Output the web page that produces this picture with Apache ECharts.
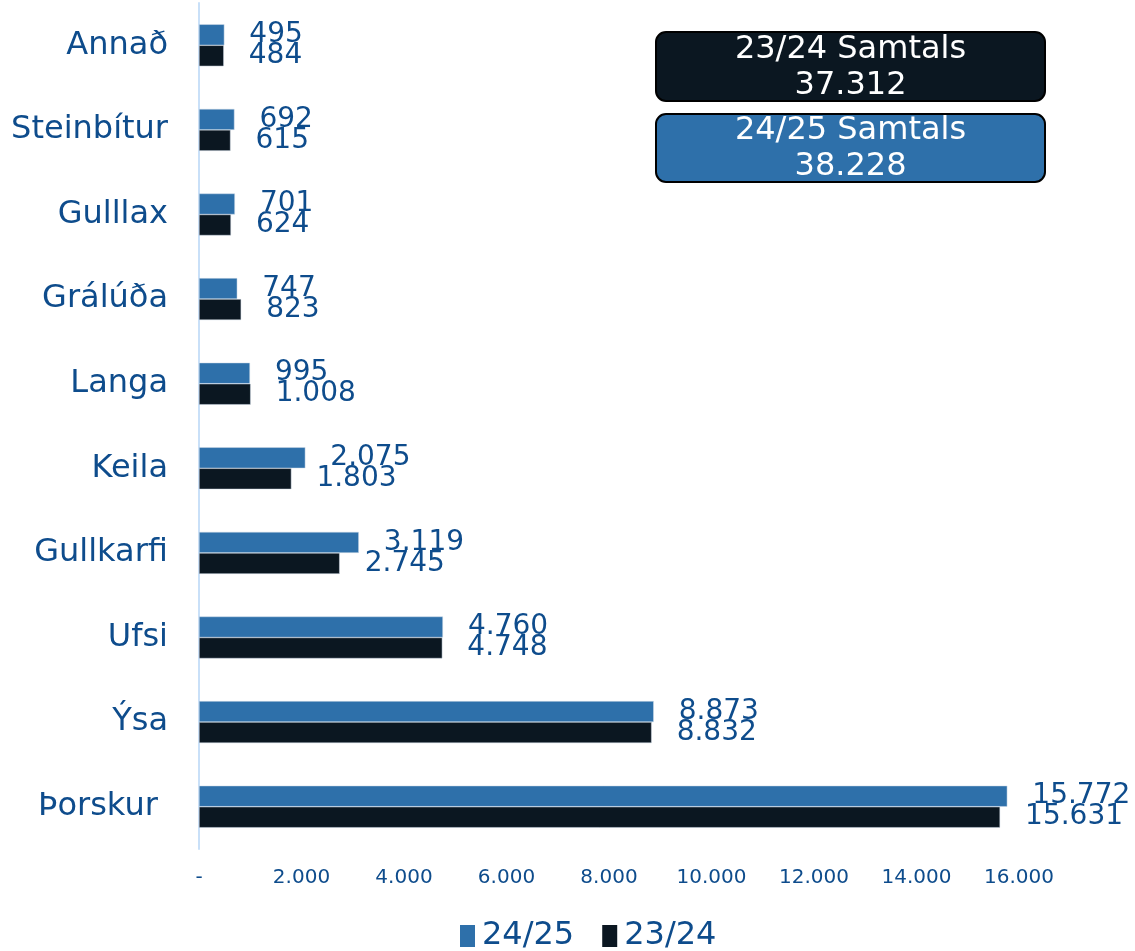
<!DOCTYPE html>
<html>
<head>
<meta charset="utf-8">
<script src="https://cdn.jsdelivr.net/npm/echarts@6/dist/echarts.min.js"></script>
<style>
  html, body { margin: 0; padding: 0; background: #fff; }
  #chart { width: 1135px; height: 951px; }
</style>
</head>
<body>
<div id="chart"></div>
<script>
// tegundir (top to bottom)
const categories = ['Annað', 'Steinbítur', 'Gulllax', 'Grálúða', 'Langa', 'Keila', 'Gullkarfi', 'Ufsi', 'Ýsa', 'Þorskur ']
const seriesNames = ['24/25', '23/24']
const values2425 = [495, 692, 701, 747, 995, 2075, 3119, 4760, 8873, 15772]
const values2324 = [484, 615, 624, 823, 1008, 1803, 2745, 4748, 8832, 15631]
const totalTitles = ['23/24 Samtals', '24/25 Samtals']
const totalValues = ['37.312', '38.228']

const textColor = '#0E4C8C'
const blue = '#2E70AA'
const dark = '#0B1721'
const font = 'DejaVu Sans'

// 1234 -> 1.234, 0 -> -
function fmt (v) {
  if (v === 0) return '-'
  return String(v).replace(/\B(?=(\d{3})+(?!\d))/g, '.')
}

const chart = echarts.init(document.getElementById('chart'))

const barLabel = {
  show: true,
  position: 'right',
  distance: 25,
  fontSize: 28,
  fontFamily: font,
  color: textColor,
  formatter: p => fmt(p.value)
}

const option = {
  animation: false,
  grid: { left: 199, right: 116, top: 3, bottom: 102, containLabel: false },
  legend: {
    data: seriesNames,
    left: 455,
    top: 915,
    icon: 'rect',
    itemWidth: 15,
    itemHeight: 22,
    itemGap: 28,
    itemStyle: { borderWidth: 0 },
    textStyle: { fontSize: 32, fontFamily: font, color: textColor, padding: [0, 0, 0, 2] }
  },
  xAxis: {
    type: 'value',
    min: 0,
    max: 16000,
    interval: 2000,
    axisLine: { show: false },
    axisTick: { show: false },
    splitLine: { show: false },
    axisLabel: {
      margin: 19,
      fontSize: 20,
      fontFamily: font,
      color: textColor,
      formatter: v => fmt(v)
    }
  },
  yAxis: {
    type: 'category',
    inverse: true,
    data: categories,
    axisLine: { show: true, lineStyle: { color: '#C9E0F8', width: 2 } },
    axisTick: { show: false },
    axisLabel: { margin: 31, fontSize: 32, fontFamily: font, color: textColor }
  },
  series: [
    {
      name: seriesNames[0],
      type: 'bar',
      data: values2425,
      barWidth: 21,
      barGap: '0%',
      itemStyle: { color: blue, borderColor: '#D0DCE8', borderWidth: 0.5 },
      label: barLabel
    },
    {
      name: seriesNames[1],
      type: 'bar',
      data: values2324,
      barWidth: 21,
      barGap: '0%',
      itemStyle: { color: dark, borderColor: '#D0DCE8', borderWidth: 0.5 },
      label: barLabel
    }
  ],
  graphic: [
    {
      type: 'group',
      left: 655,
      top: 31,
      children: [
        {
          type: 'rect',
          shape: { x: 0, y: 0, width: 389, height: 69, r: 10 },
          style: { fill: dark, stroke: '#000', lineWidth: 2 }
        },
        {
          type: 'text',
          x: 194.5,
          y: 36,
          style: {
            text: totalTitles[0] + '\n' + totalValues[0],
            fill: '#fff',
            fontSize: 32,
            fontFamily: font,
            lineHeight: 36,
            align: 'center',
            verticalAlign: 'middle'
          }
        }
      ]
    },
    {
      type: 'group',
      left: 655,
      top: 113,
      children: [
        {
          type: 'rect',
          shape: { x: 0, y: 0, width: 389, height: 68, r: 10 },
          style: { fill: blue, stroke: '#000', lineWidth: 2 }
        },
        {
          type: 'text',
          x: 194.5,
          y: 35,
          style: {
            text: totalTitles[1] + '\n' + totalValues[1],
            fill: '#fff',
            fontSize: 32,
            fontFamily: font,
            lineHeight: 36,
            align: 'center',
            verticalAlign: 'middle'
          }
        }
      ]
    }
  ]
}

chart.setOption(option)
</script>
</body>
</html>
